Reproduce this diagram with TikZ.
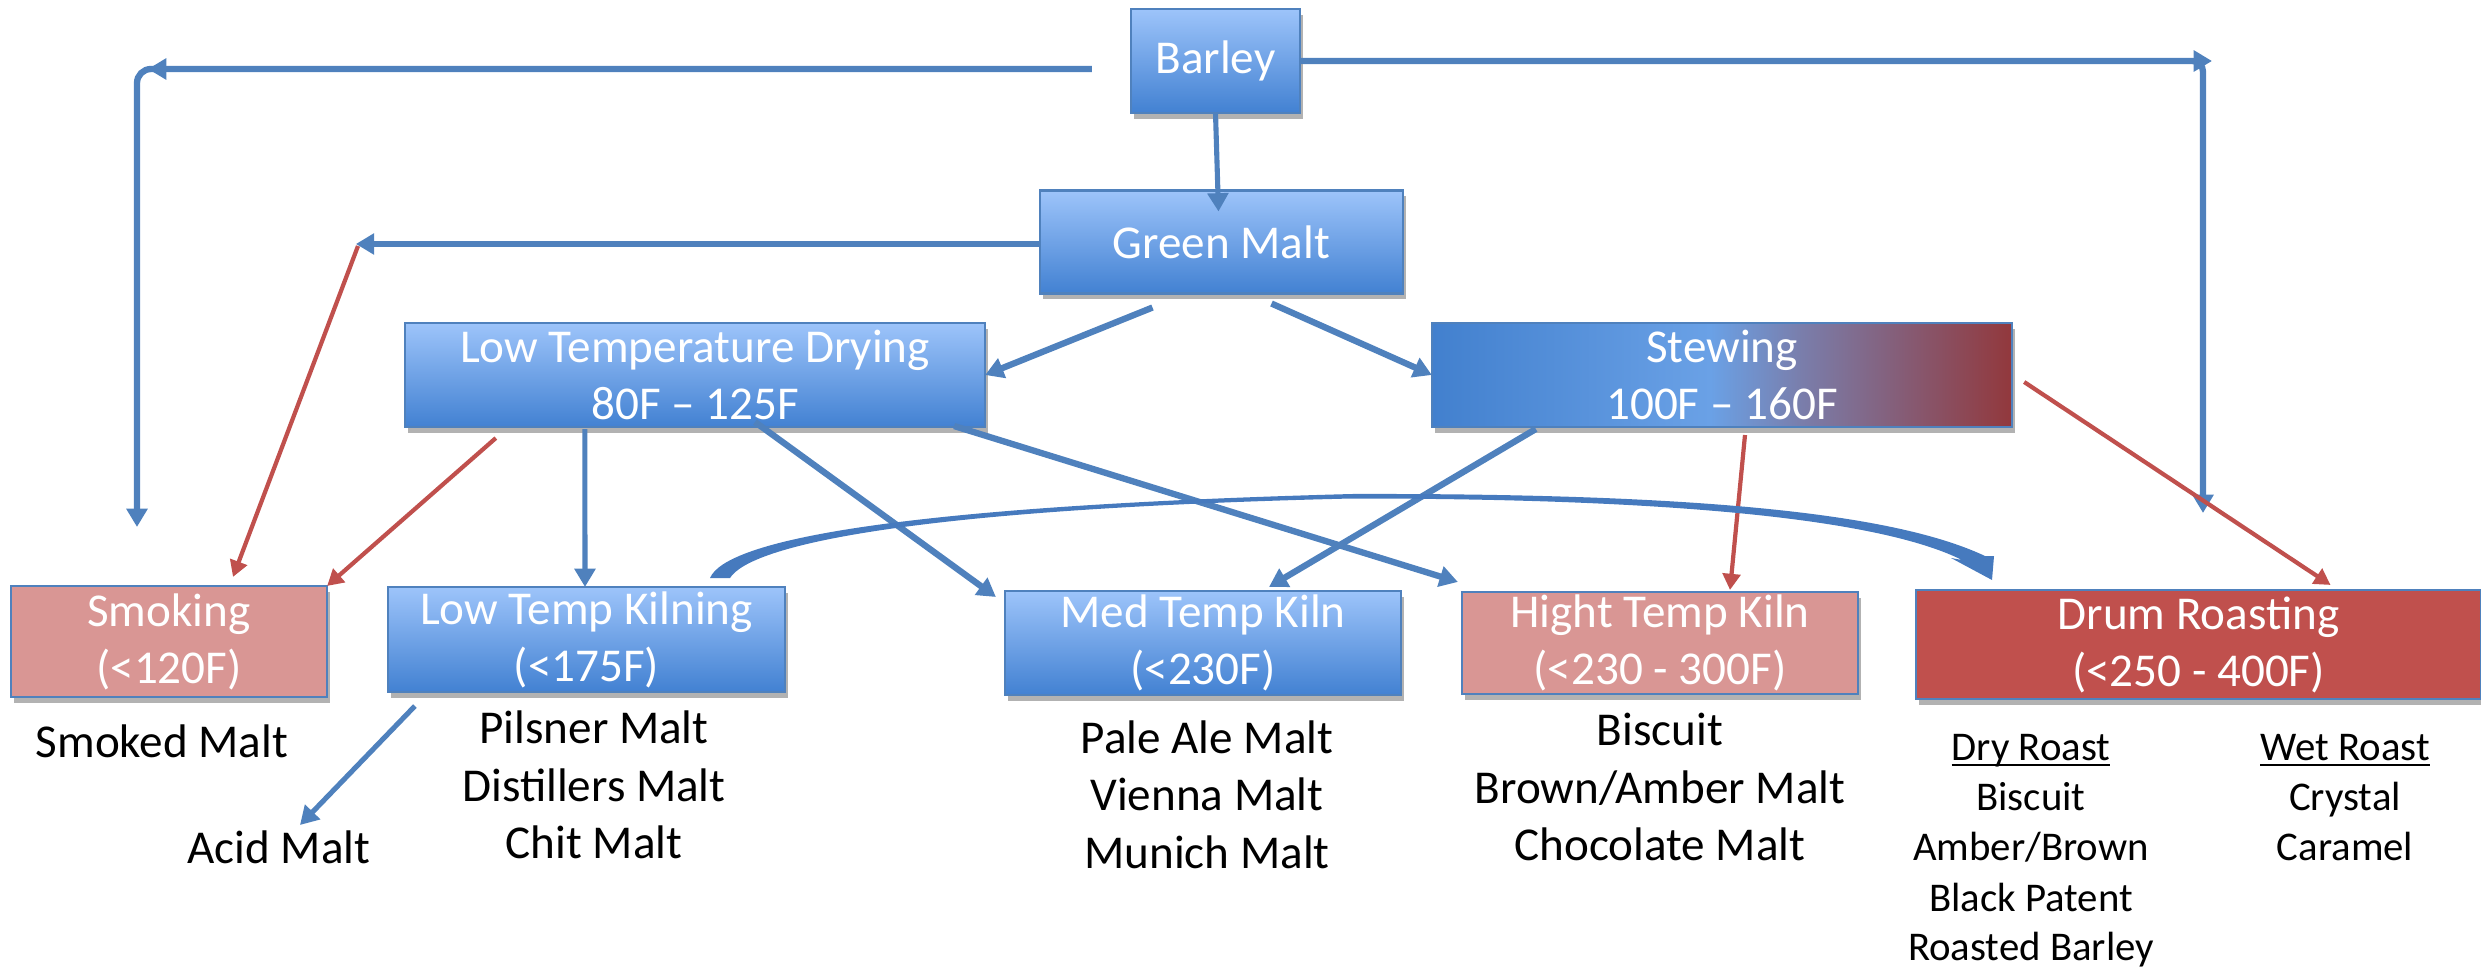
\documentclass[tikz,border=0pt]{standalone}
\usepackage{fontspec}
\setmainfont{Carlito}
\usetikzlibrary{arrows.meta,calc,shadows}
\definecolor{lineblue}{RGB}{79,129,189}
\definecolor{curveblue}{RGB}{70,122,190}
\definecolor{linered}{RGB}{192,80,77}
\definecolor{boxtop}{RGB}{157,196,250}
\definecolor{boxbot}{RGB}{66,129,210}
\definecolor{boxpink}{RGB}{217,150,148}
\definecolor{drumred}{RGB}{192,80,77}
\definecolor{stewA}{RGB}{66,128,206}
\definecolor{stewB}{RGB}{106,161,230}
\definecolor{stewC}{RGB}{122,125,170}
\definecolor{stewD}{RGB}{146,56,60}
\pgfdeclarehorizontalshading{stewshade}{100bp}{color(0bp)=(stewA); color(25bp)=(stewA); color(49bp)=(stewB); color(57bp)=(stewC); color(75bp)=(stewD); color(100bp)=(stewD)}
\newcommand\bxfont{\fontsize{13.4pt}{16.2pt}\selectfont}
\newcommand\lbfont{\fontsize{13.4pt}{16.2pt}\selectfont}
\newcommand\smfont{\fontsize{11.6pt}{14.2pt}\selectfont}
\tikzset{
  nbox/.style={draw=lineblue, line width=0.6pt, inner sep=0pt, outer sep=0pt,
    text=white, align=center, font=\bxfont,
    drop shadow={shadow xshift=0.8pt, shadow yshift=-1.6pt, opacity=0.3, fill=black}},
  bluebox/.style={nbox, top color=boxtop, bottom color=boxbot},
  pinkbox/.style={nbox, fill=boxpink},
  redbox/.style={nbox, fill=drumred},
  stewbox/.style={nbox, shade, shading=stewshade},
  lbl/.style={font=\lbfont, anchor=base, inner sep=0pt},
  sml/.style={font=\smfont, anchor=base, inner sep=0pt},
  conn/.style={draw=lineblue, line width=1.8pt, -{Triangle[length=5.2pt,width=5.8pt]}},
  connthin/.style={conn, line width=1.45pt},
  connred/.style={draw=linered, line width=1.2pt, -{Triangle[length=4.6pt,width=5pt]}}
}
\begin{document}
\begin{tikzpicture}[x=0.01cm,y=-0.01cm]
\useasboundingbox (0,0) rectangle (2481,970);
% boxes
\node[bluebox, minimum width=1.69cm, minimum height=1.04cm] (barley) at (1215.5,61) {Barley};
\node[bluebox, minimum width=3.63cm, minimum height=1.03cm] (green) at (1221.5,242) {Green Malt};
\node[bluebox, minimum width=5.80cm, minimum height=1.04cm] (ltd) at (695,375) {Low Temperature Drying\\80F – 125F};
\node[stewbox, minimum width=5.80cm, minimum height=1.04cm] (stew) at (1722,375) {Stewing\\100F – 160F};
\node[pinkbox, minimum width=3.16cm, minimum height=1.11cm] (smoke) at (169,641.5) {Smoking\\(<120F)};
\node[bluebox, minimum width=3.97cm, minimum height=1.05cm] (ltk) at (586.5,639.5) {Low Temp Kilning\\(<175F)};
\node[bluebox, minimum width=3.96cm, minimum height=1.04cm] (mtk) at (1203,643) {Med Temp Kiln\\(<230F)};
\node[pinkbox, minimum width=3.96cm, minimum height=1.02cm] (htk) at (1660,643) {Hight Temp Kiln\\(<230 - 300F)};
\node[redbox, minimum width=5.65cm, minimum height=1.09cm] (drum) at (2198.5,644.5) {Drum Roasting\\(<250 - 400F)};
% labels
\node[lbl] (smoked) at (162,757) {Smoked Malt};
\node[lbl] (acid) at (279,863) {Acid Malt};
\node[lbl] (pil) at (594,743) {Pilsner Malt};
\node[lbl] (dist) at (594,801) {Distillers Malt};
\node[lbl] (chit) at (594,858) {Chit Malt};
\node[lbl] (pale) at (1207,753) {Pale Ale Malt};
\node[lbl] (vienna) at (1207,810) {Vienna Malt};
\node[lbl] (munich) at (1207,868) {Munich Malt};
\node[lbl] (bisc1) at (1660,745) {Biscuit};
\node[lbl] (brown) at (1660,803) {Brown/Amber Malt};
\node[lbl] (choc) at (1660,860) {Chocolate Malt};
\node[sml] (dry) at (2031,760) {\underbar{Dry Roast}};
\node[sml] (bisc2) at (2031,810) {Biscuit};
\node[sml] (amber) at (2031,860) {Amber/Brown};
\node[sml] (black) at (2031,911) {Black Patent};
\node[sml] (roast) at (2031,960) {Roasted Barley};
\node[sml] (wet) at (2345,760) {\underbar{Wet Roast}};
\node[sml] (crystal) at (2345,810) {Crystal};
\node[sml] (caramel) at (2345,860) {Caramel};
% coordinates for free ends
\coordinate (lvEnd) at (137,527);
\coordinate (rvEnd) at (2203,513);
\coordinate (lhA) at (210,69);
\coordinate (lhB) at (148,69);
\coordinate (rhA) at (2150,61);
\coordinate (rhB) at (2212,61);
\coordinate (gl) at (358,246);
% barley connectors
\draw[conn, rounded corners=4pt] ($(barley.west)+(-39,8)$) -| (lvEnd);
\draw[conn] (lhA) -- (lhB);
\draw[conn, rounded corners=3pt] (barley.east) -| (rvEnd);
\draw[conn] (rhA) -- (rhB);
\draw[connthin] (barley.south) -- ($(green.north)+(-3,21)$);
% green malt connectors
\draw[conn] ($(green.west)+(0,2)$) -- ($(green.west)+(-684,2)$);
\draw[connred] (gl) -- ($(smoke.north)+(64,-9)$);
\draw[conn] ($(green.south)+(-69,14)$) -- (ltd.east);
\draw[conn] ($(green.south)+(50,10)$) -- (stew.west);
% low temperature drying
\draw[connred] ($(ltd.south west)+(91,11)$) -- (smoke.north east);
\draw[connthin] ($(ltd.south west)+(180,2)$) -- ($(ltk.north)+(-1.5,0)$);
\draw[conn] ($(ltd.south)+(60,-5)$) -- ($(mtk.north west)+(-9,6)$);
\draw[conn] ($(ltd.south east)+(-31,-1)$) -- ($(htk.north west)+(-4,-10)$);
% stewing
\draw[conn] ($(stew.south west)+(104,2)$) -- ($(mtk.north)+(66,-4)$);
\draw[connred] ($(stew.south)+(23,8)$) -- ($(htk.north)+(70,-2)$);
\draw[connred] ($(stew.east)+(12,7)$) -- ($(drum.north)+(132,-5)$);
% acid malt
\draw[connthin] ($(ltk.south west)+(27,14)$) -- ($(acid.base)+(21,-38)$);
% curved block arrow from low temp kilning to drum roasting
\fill[curveblue] (710,578) .. controls (726,540) and (900,506) .. (1352,494)
  .. controls (1720,493) and (1900,516) .. (1985,556)
  -- (1994,556) -- (1992,580) -- (1951,558) -- (1962,560)
  .. controls (1890,524) and (1710,498.5) .. (1352,498.5)
  .. controls (905,509) and (750,546) .. (730,578) -- cycle;
\end{tikzpicture}
\end{document}
